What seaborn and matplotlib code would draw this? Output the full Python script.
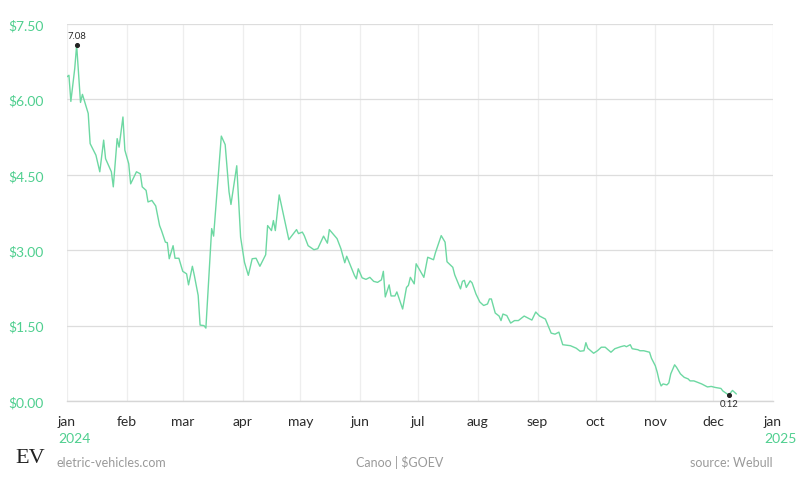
import numpy as np
import pandas as pd
import matplotlib
matplotlib.use("Agg")
import matplotlib.pyplot as plt
import matplotlib.dates as mdates
import seaborn as sns

# Canoo ($GOEV) closing price, 2024
dates = [
    "2024-01-01", "2024-01-02", "2024-01-03", "2024-01-05", "2024-01-06", "2024-01-08", "2024-01-09",
    "2024-01-12", "2024-01-13", "2024-01-16", "2024-01-18", "2024-01-20", "2024-01-21", "2024-01-24",
    "2024-01-25", "2024-01-27", "2024-01-28", "2024-01-30", "2024-01-31", "2024-02-02", "2024-02-03",
    "2024-02-06", "2024-02-08", "2024-02-09", "2024-02-11", "2024-02-12", "2024-02-14", "2024-02-16",
    "2024-02-18", "2024-02-19", "2024-02-21", "2024-02-22", "2024-02-23", "2024-02-25", "2024-02-26",
    "2024-02-28", "2024-03-01", "2024-03-03", "2024-03-04", "2024-03-06", "2024-03-07", "2024-03-09",
    "2024-03-10", "2024-03-12", "2024-03-13", "2024-03-16", "2024-03-17", "2024-03-21", "2024-03-23",
    "2024-03-25", "2024-03-26", "2024-03-29", "2024-03-31", "2024-04-02", "2024-04-04", "2024-04-06",
    "2024-04-08", "2024-04-10", "2024-04-13", "2024-04-14", "2024-04-16", "2024-04-17", "2024-04-18",
    "2024-04-20", "2024-04-25", "2024-04-29", "2024-04-30", "2024-05-02", "2024-05-03", "2024-05-05",
    "2024-05-08", "2024-05-10", "2024-05-13", "2024-05-15", "2024-05-16", "2024-05-20", "2024-05-22",
    "2024-05-24", "2024-05-25", "2024-05-29", "2024-05-30", "2024-05-31", "2024-06-02", "2024-06-04",
    "2024-06-06", "2024-06-08", "2024-06-10", "2024-06-12", "2024-06-13", "2024-06-14", "2024-06-16",
    "2024-06-17", "2024-06-19", "2024-06-20", "2024-06-23", "2024-06-25", "2024-06-26", "2024-06-27",
    "2024-06-29", "2024-06-30", "2024-07-04", "2024-07-06", "2024-07-09", "2024-07-10", "2024-07-13",
    "2024-07-15", "2024-07-16", "2024-07-19", "2024-07-20", "2024-07-23", "2024-07-24", "2024-07-25",
    "2024-07-26", "2024-07-28", "2024-07-29", "2024-07-31", "2024-08-02", "2024-08-04", "2024-08-06",
    "2024-08-07", "2024-08-08", "2024-08-10", "2024-08-12", "2024-08-13", "2024-08-14", "2024-08-16",
    "2024-08-18", "2024-08-20", "2024-08-22", "2024-08-25", "2024-08-29", "2024-08-31", "2024-09-02",
    "2024-09-05", "2024-09-08", "2024-09-10", "2024-09-12", "2024-09-14", "2024-09-18", "2024-09-21",
    "2024-09-23", "2024-09-25", "2024-09-26", "2024-09-27", "2024-09-30", "2024-10-02", "2024-10-04",
    "2024-10-06", "2024-10-09", "2024-10-11", "2024-10-14", "2024-10-16", "2024-10-17", "2024-10-19",
    "2024-10-20", "2024-10-23", "2024-10-24", "2024-10-26", "2024-10-29", "2024-10-30", "2024-11-01",
    "2024-11-02", "2024-11-03", "2024-11-04", "2024-11-05", "2024-11-07", "2024-11-08", "2024-11-09",
    "2024-11-11", "2024-11-12", "2024-11-14", "2024-11-16", "2024-11-18", "2024-11-19", "2024-11-21",
    "2024-11-23", "2024-11-25", "2024-11-28", "2024-11-30", "2024-12-02", "2024-12-05", "2024-12-06",
    "2024-12-09", "2024-12-11", "2024-12-13",
]
prices = [
    6.45, 6.48, 5.96, 6.61, 7.08, 5.94, 6.10, 5.72, 5.12, 4.89, 4.56, 5.19, 4.82, 4.56,
    4.26, 5.22, 5.05, 5.65, 4.99, 4.72, 4.32, 4.56, 4.52, 4.26, 4.19, 3.96, 3.99, 3.88,
    3.49, 3.39, 3.16, 3.15, 2.83, 3.09, 2.84, 2.84, 2.58, 2.53, 2.31, 2.68, 2.50, 2.10,
    1.51, 1.50, 1.45, 3.43, 3.28, 5.27, 5.10, 4.16, 3.91, 4.68, 3.26, 2.76, 2.50, 2.83,
    2.84, 2.68, 2.91, 3.49, 3.39, 3.59, 3.39, 4.10, 3.21, 3.41, 3.33, 3.36, 3.29, 3.09,
    3.01, 3.03, 3.28, 3.14, 3.41, 3.23, 3.03, 2.75, 2.88, 2.50, 2.43, 2.63, 2.45, 2.42,
    2.46, 2.38, 2.36, 2.41, 2.58, 2.07, 2.31, 2.09, 2.09, 2.17, 1.83, 2.26, 2.30, 2.46,
    2.33, 2.73, 2.46, 2.86, 2.81, 2.95, 3.29, 3.16, 2.77, 2.66, 2.51, 2.23, 2.38, 2.40,
    2.26, 2.39, 2.35, 2.13, 1.97, 1.90, 1.93, 2.03, 2.03, 1.75, 1.69, 1.60, 1.73, 1.70,
    1.55, 1.60, 1.60, 1.69, 1.61, 1.77, 1.69, 1.63, 1.35, 1.33, 1.37, 1.12, 1.10, 1.05,
    0.99, 1.00, 1.16, 1.05, 0.95, 1.00, 1.07, 1.07, 0.97, 1.04, 1.08, 1.10, 1.08, 1.12,
    1.04, 1.02, 1.00, 1.00, 0.97, 0.85, 0.70, 0.57, 0.40, 0.30, 0.34, 0.32, 0.36, 0.54,
    0.72, 0.67, 0.54, 0.47, 0.44, 0.40, 0.40, 0.37, 0.34, 0.28, 0.29, 0.27, 0.25, 0.20,
    0.12, 0.21, 0.14,
]
y_ticks = [0.0, 1.5, 3.0, 4.5, 6.0, 7.5]

GREEN = "#4fcf8f"
LINE = "#6dd8a2"
DARK = "#2b2b2b"
GREY = "#9a9a9a"

df = pd.DataFrame({"date": pd.to_datetime(dates), "price": prices})

sns.set_style("white")
plt.rcParams["font.family"] = ["Lato", "DejaVu Sans"]

fig = plt.figure(figsize=(8, 4.81), dpi=100)
ax = fig.add_axes([67 / 800, 1 - 402 / 481, 706 / 800, 377 / 481])

sns.lineplot(data=df, x="date", y="price", ax=ax, color=LINE, linewidth=1.0)

# hi / lo markers
hi = df.loc[df["price"].idxmax()]
lo = df.loc[df["price"].idxmin()]
ax.scatter([hi["date"], lo["date"]], [hi["price"], lo["price"]], s=7, color="#222222", zorder=5)
ax.annotate(f"{hi['price']:.2f}", (hi["date"], hi["price"]), xytext=(0, 4),
            textcoords="offset points", ha="center", va="bottom", fontsize=6.8, color=DARK)
ax.annotate(f"{lo['price']:.2f}", (lo["date"], lo["price"]), xytext=(0, -3),
            textcoords="offset points", ha="center", va="top", fontsize=6.8, color=DARK)

ax.set_xlim(pd.Timestamp("2024-01-01"), pd.Timestamp("2025-01-01"))
ax.set_ylim(0, 7.5)
ax.set_yticks(y_ticks)
ax.set_yticklabels([f"${v:.2f}" for v in y_ticks])
ax.xaxis.set_major_locator(mdates.MonthLocator())
ax.xaxis.set_major_formatter(mdates.DateFormatter("%b"))
fig.canvas.draw()
ax.set_xticks(ax.get_xticks())
ax.set_xticklabels([t.get_text().lower() for t in ax.get_xticklabels()])

ax.tick_params(axis="y", length=0, pad=17, labelsize=10, labelcolor=GREEN)
ax.tick_params(axis="x", length=0, pad=10, labelsize=10, labelcolor=DARK)
ax.set_xlabel("")
ax.set_ylabel("")

ax.grid(axis="y", color="#dddddd", linewidth=0.9)
ax.grid(axis="x", color="#eeeeee", linewidth=0.9)
for side in ["top", "right", "left"]:
    ax.spines[side].set_visible(False)
ax.spines["bottom"].set_color("#d6d6d6")
ax.spines["bottom"].set_linewidth(1.0)

# year labels under jan
for d, yr in [("2024-01-01", "2024"), ("2025-01-01", "2025")]:
    ax.annotate(yr, (mdates.date2num(pd.Timestamp(d)), 0), xycoords=("data", "axes fraction"),
                xytext=(-6.5, -22), textcoords="offset points", ha="left", va="top",
                fontsize=10, color=GREEN, annotation_clip=False)

# footer
fig.text(15 / 800, 1 - 459 / 481, "EV", fontsize=16, family="Liberation Serif",
         color="#222222", ha="left", va="center")
fig.text(57 / 800, 1 - 463 / 481, "eletric-vehicles.com", fontsize=9, color=GREY,
         ha="left", va="center")
fig.text(400 / 800, 1 - 463 / 481, "Canoo | $GOEV", fontsize=9, color=GREY,
         ha="center", va="center")
fig.text(773 / 800, 1 - 463 / 481, "source: Webull", fontsize=9, color=GREY,
         ha="right", va="center")

fig.savefig("out.png", dpi=100)
